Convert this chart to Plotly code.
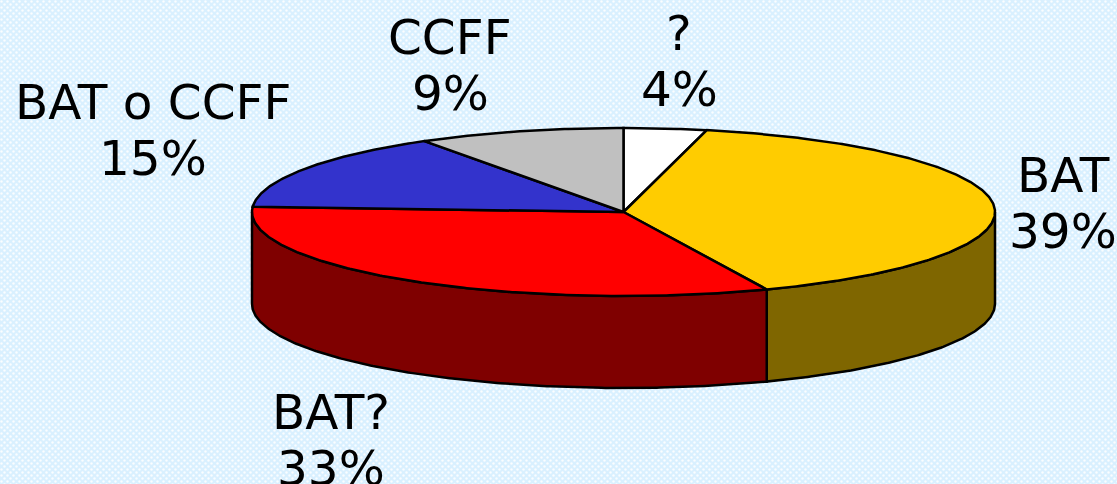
import base64
import numpy as np
import plotly.graph_objects as go

categories = ["?", "BAT", "BAT?", "BAT o CCFF", "CCFF"]
# Shares as printed on the labels of the reference
percent_labels = ["4%", "39%", "33%", "15%", "9%"]
values = [3.6, 40.1, 32.3, 15.0, 9.0]
top_colors = ["#FFFFFF", "#FFCC00", "#FF0000", "#3333CC", "#C0C0C0"]
side_colors = ["#7F7F7F", "#7F6600", "#7F0000", "#19197F", "#606060"]
label_centers = [(679, 33), (1063, 175), (331, 412), (153, 102), (450, 37)]

W, H = 1117, 484
CX, CY, RX, RY, DEPTH = 623.5, 212, 371.5, 84, 92
LINE_GAP = 56


def rim(a0, a1):
    n = max(2, int(abs(a1 - a0) / 0.5) + 1)
    t = np.radians(np.linspace(a0, a1, n))
    return CX + RX * np.sin(t), CY - RY * np.cos(t)


fig = go.Figure()
total = sum(values)
edges = np.cumsum([0] + values) / total * 360

# visible outer wall: only the front half of the disc (90 deg to 270 deg clockwise from top)
for i, c in enumerate(categories):
    a0, a1 = max(edges[i], 90), min(edges[i + 1], 270)
    if a1 <= a0:
        continue
    x, y = rim(a0, a1)
    fig.add_trace(go.Scatter(
        x=np.r_[x, x[::-1], x[0]], y=np.r_[y, y[::-1] + DEPTH, y[0]],
        mode="lines", fill="toself", fillcolor=side_colors[i],
        line=dict(color="#000000", width=2.5), hoverinfo="skip", showlegend=False))

# top face
for i, c in enumerate(categories):
    x, y = rim(edges[i], edges[i + 1])
    fig.add_trace(go.Scatter(
        x=np.r_[CX, x, CX], y=np.r_[CY, y, CY],
        mode="lines", fill="toself", fillcolor=top_colors[i],
        line=dict(color="#000000", width=2.5), name=c, hoverinfo="skip", showlegend=False))

annotations = []
for c, p, (lx, ly) in zip(categories, percent_labels, label_centers):
    for txt, yy in ((c, ly), (p, ly + LINE_GAP)):
        annotations.append(dict(x=lx, y=yy, text=txt, showarrow=False, xanchor="center",
                                yanchor="middle", font=dict(family="DejaVu Sans", size=48.5, color="#000000")))

pattern = (
    f'<svg xmlns="http://www.w3.org/2000/svg" width="{W}" height="{H}">'
    '<defs><pattern id="p" width="6" height="6" patternUnits="userSpaceOnUse">'
    '<rect width="6" height="6" fill="#D9F0FF"/>'
    '<circle cx="1.5" cy="1.5" r="1.2" fill="#FAFDFF"/>'
    '<circle cx="4.5" cy="4.5" r="1.2" fill="#FAFDFF"/>'
    '</pattern></defs>'
    f'<rect width="{W}" height="{H}" fill="url(#p)"/></svg>'
)
source = "data:image/svg+xml;base64," + base64.b64encode(pattern.encode()).decode()

fig.update_layout(
    width=W, height=H, margin=dict(l=0, r=0, t=0, b=0),
    paper_bgcolor="#DDF1FF", plot_bgcolor="rgba(0,0,0,0)",
    xaxis=dict(range=[0, W], visible=False, fixedrange=True),
    yaxis=dict(range=[H, 0], visible=False, fixedrange=True),
    annotations=annotations,
    images=[dict(source=source, xref="paper", yref="paper", x=0, y=1, sizex=1, sizey=1,
                 xanchor="left", yanchor="top", sizing="stretch", layer="below")],
)
fig.write_html(
    "out.html", config={"displayModeBar": False},
    post_script="document.body.style.margin='0';document.body.style.overflow='hidden';",
)
